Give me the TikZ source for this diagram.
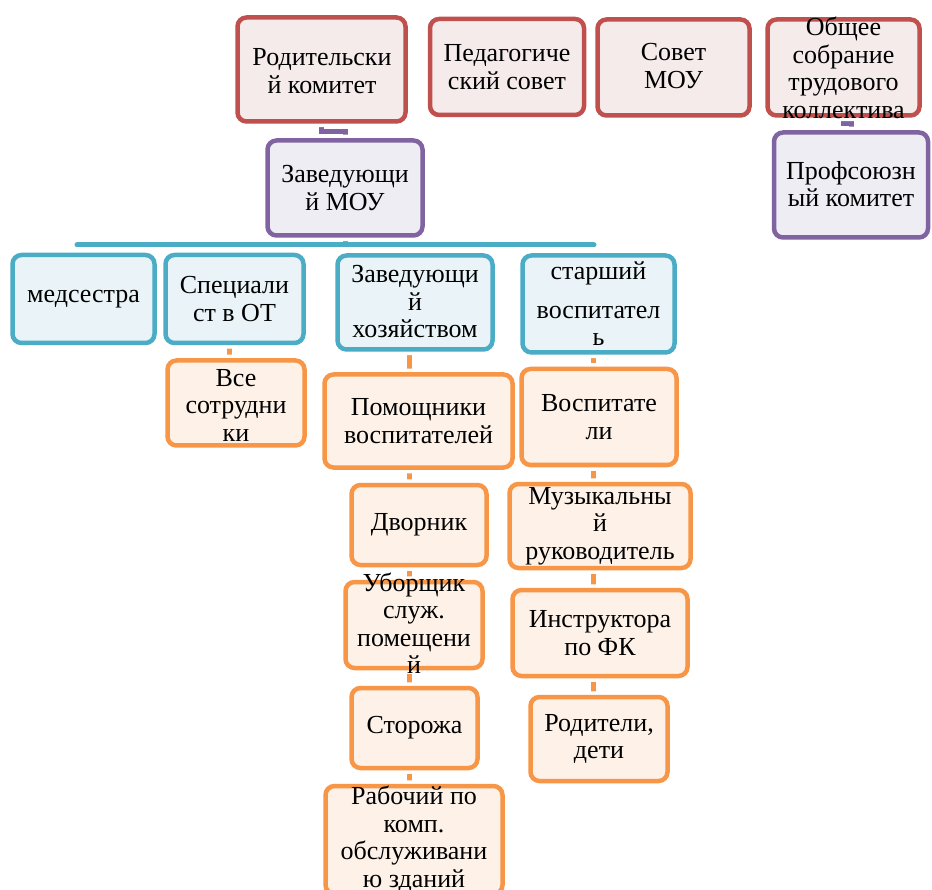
\documentclass[tikz,border=0pt]{standalone}
\usepackage{fontspec}
\setmainfont{Liberation Serif}
\usetikzlibrary{backgrounds}

\begin{document}
\begin{tikzpicture}[x=1pt,y=-1pt,font=\fontsize{26}{27.5}\selectfont]
\definecolor{redln}{HTML}{C0504D}\definecolor{redfl}{HTML}{F5EBEB}
\definecolor{violn}{HTML}{8064A2}\definecolor{viofl}{HTML}{EFEDF4}
\definecolor{bluln}{HTML}{4BACC6}\definecolor{blufl}{HTML}{EAF4F8}
\definecolor{orgln}{HTML}{F79646}\definecolor{orgfl}{HTML}{FDF1E8}
\tikzset{
  box/.style={rounded corners=9pt,line width=4.5pt,inner sep=0pt,
    preaction={draw=white,line width=11.5pt}},
  redbox/.style={box,draw=redln,fill=redfl},
  viobox/.style={box,draw=violn,fill=viofl},
  blubox/.style={box,draw=bluln,fill=blufl},
  orgbox/.style={box,draw=orgln,fill=orgfl},
  txt/.style={align=center,inner sep=0pt,text=black},
  link/.style={line width=5pt}
}
\useasboundingbox (0,0) rectangle (932,890);
% councils
\node[redbox,minimum width=168,minimum height=104] (rodkom) at (321.5,69.5) {};
\node[redbox,minimum width=154,minimum height=96] (pedsov) at (507,67) {};
\node[redbox,minimum width=152,minimum height=96] (sovet) at (673.5,67.5) {};
\node[redbox,minimum width=152,minimum height=96] (obsh) at (843.5,67.5) {};
\node[viobox,minimum width=154,minimum height=105] (profkom) at (851,185) {};
\node[viobox,minimum width=155,minimum height=95] (zavmou) at (345,188) {};
% first level
\node[blubox,minimum width=142,minimum height=88] (medsestra) at (83.5,299) {};
\node[blubox,minimum width=138,minimum height=88] (specot) at (234.5,299) {};
\node[blubox,minimum width=155,minimum height=94] (zavhoz) at (415,302.5) {};
\node[blubox,minimum width=152,minimum height=97] (starsh) at (598.5,304) {};
% staff
\node[orgbox,minimum width=137,minimum height=85] (vse) at (236,403) {};
\node[orgbox,minimum width=188,minimum height=93] (pomvosp) at (418.5,421) {};
\node[orgbox,minimum width=155,minimum height=96] (vosp) at (599,417) {};
\node[orgbox,minimum width=135,minimum height=80] (dvornik) at (419,525) {};
\node[orgbox,minimum width=181,minimum height=84] (muzruk) at (600,526) {};
\node[orgbox,minimum width=137,minimum height=86] (uborsh) at (414,625) {};
\node[orgbox,minimum width=175,minimum height=86] (instr) at (600,633) {};
\node[orgbox,minimum width=126,minimum height=80] (storozh) at (414.5,728) {};
\node[orgbox,minimum width=137,minimum height=84] (rodit) at (599,739) {};
\node[orgbox,minimum width=177,minimum height=108] (rabochiy) at (414,840) {};
% connectors, behind the boxes
\coordinate (busl) at (77,245);
\coordinate (busr) at (594,245);
\coordinate (lspine) at (409,0);
\coordinate (rspine) at (593,0);
\coordinate (vspine) at (229,0);
\begin{scope}[on background layer]
\draw[violn,link] (rodkom.south) -- ++(0,8) -| (zavmou.north);
\draw[violn,link] (obsh.south) -- ++(0,6) -| (profkom.north);
\draw[bluln,link] (zavmou.south) -- (zavmou.south |- busl);
\draw[bluln,link,line cap=round] (busl) -- (busr);
\draw[orgln,link] (specot.south -| vspine) -- (vse.north -| vspine);
\draw[orgln,link] (zavhoz.south -| lspine) -- (pomvosp.north -| lspine);
\draw[orgln,link] (pomvosp.south -| lspine) -- (dvornik.north -| lspine);
\draw[orgln,link] (dvornik.south -| lspine) -- (uborsh.north -| lspine);
\draw[orgln,link] (uborsh.south -| lspine) -- (storozh.north -| lspine);
\draw[orgln,link] (storozh.south -| lspine) -- (rabochiy.north -| lspine);
\draw[orgln,link] (starsh.south -| rspine) -- (vosp.north -| rspine);
\draw[orgln,link] (vosp.south -| rspine) -- (muzruk.north -| rspine);
\draw[orgln,link] (muzruk.south -| rspine) -- (instr.north -| rspine);
\draw[orgln,link] (instr.south -| rspine) -- (rodit.north -| rspine);
\end{scope}
% labels
\node[txt] (rodkomT) at (322,71) {Родительски\\й комитет};
\node[txt] (pedsovT) at (507,67) {Педагогиче\\ский совет};
\node[txt] (sovetT) at (673.5,66) {Совет\\МОУ};
\node[txt] (obshT) at (843.5,68) {Общее\\собрание\\трудового\\коллектива};
\node[txt] (profkomT) at (851,184) {Профсоюзн\\ый комитет};
\node[txt] (zavmouT) at (345,188) {Заведующи\\й МОУ};
\node[txt] (medsestraT) at (83.5,299) {медсестра};
\node[txt] (specotT) at (234.5,299) {Специали\\ст в ОТ};
\node[txt] (zavhozT) at (415,302) {Заведующи\\й\\хозяйством};
\node[txt] (starshT) at (598.5,304) {старший\\[11pt]воспитател\\ь};
\node[txt] (vseT) at (236,405) {Все\\сотрудни\\ки};
\node[txt] (pomvospT) at (418.5,421) {Помощники\\воспитателей};
\node[txt] (vospT) at (599,417) {Воспитате\\ли};
\node[txt] (dvornikT) at (419,525) {Дворник};
\node[txt] (muzrukT) at (600,526) {Музыкальны\\й\\руководитель};
\node[txt] (uborshT) at (414,623) {Уборщик\\служ.\\помещени\\й};
\node[txt] (instrT) at (600,633) {Инструктора\\по ФК};
\node[txt] (storozhT) at (414.5,728) {Сторожа};
\node[txt] (roditT) at (599,739) {Родители,\\дети};
\node[txt] (rabochiyT) at (414,839) {Рабочий по\\комп.\\обслуживани\\ю зданий};
\end{tikzpicture}
\end{document}
